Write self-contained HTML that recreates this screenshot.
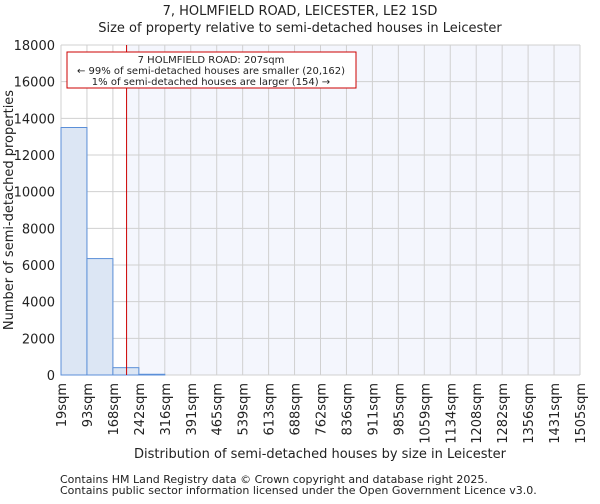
<!DOCTYPE html>
<html><head><meta charset="utf-8"><style>
body{margin:0;background:#fff;font-family:"DejaVu Sans","Liberation Sans",sans-serif}
svg text{font-family:"DejaVu Sans","Liberation Sans",sans-serif;fill:#222}
</style></head><body>
<svg width="600" height="500">
<g id="root"></g>
</svg>
<script>
const labels=["19sqm","93sqm","168sqm","242sqm","316sqm","391sqm","465sqm","539sqm","613sqm","688sqm","762sqm","836sqm","911sqm","985sqm","1059sqm","1134sqm","1208sqm","1282sqm","1356sqm","1431sqm","1505sqm"];
const counts=[13500,6350,400,40,0,0,0,0,0,0,0,0,0,0,0,0,0,0,0,0];
const yTicks=[0,2000,4000,6000,8000,10000,12000,14000,16000,18000];
const edges=[19,93,168,242,316,391,465,539,613,688,762,836,911,985,1059,1134,1208,1282,1356,1431,1505];
const propertySize=207;
const L=61,R=580,T=45,B=375,yMax=18000;
const step=(R-L)/(labels.length-1);
const NS="http://www.w3.org/2000/svg";
const root=document.getElementById('root');
function y(v){return B-(v/yMax)*(B-T);}
function xi(i){return L+i*step;}
function xv(v){for(let i=0;i<edges.length-1;i++){if(v<=edges[i+1])return xi(i)+(v-edges[i])/(edges[i+1]-edges[i])*step;}return R;}
function mk(tag,a,txt){const e=document.createElementNS(NS,tag);for(const k in a)e.setAttribute(k,a[k]);if(txt!=null)e.textContent=txt;root.appendChild(e);return e;}
const rx=xv(propertySize);
let e;
e=mk('rect',{x:L,y:T,width:R-L,height:B-T,fill:'#fff'});


e=mk('rect',{x:rx,y:T,width:R-rx,height:B-T,fill:'#f4f6fd'});


yTicks.forEach(t=>{
 e=mk('line',{x1:L,x2:R,y1:y(t),y2:y(t),stroke:'#d0d0d0','stroke-width':1});
 
 
 e=mk('text',{x:L-6,y:y(t)+5,'text-anchor':'end','font-size':13},t);
 
 
});
labels.forEach((l,i)=>{
 e=mk('line',{x1:xi(i),x2:xi(i),y1:T,y2:B,stroke:'#d0d0d0','stroke-width':1});
 
 
 e=mk('text',{x:0,y:0,'text-anchor':'end','font-size':13,transform:`translate(${xi(i)+5},${B+8}) rotate(-90)`},l);
 
 
});
counts.forEach((c,i)=>{
 if(c<=0)return;
 e=mk('rect',{x:xi(i),y:y(c),width:step,height:B-y(c),fill:'#dce6f4',stroke:'#5b8fd8','stroke-width':1});
 
 
});
e=mk('line',{x1:rx,x2:rx,y1:T,y2:B,stroke:'#cc0000','stroke-width':1});


e=mk('rect',{x:67,y:52,width:289,height:36,fill:'#fff',stroke:'#cc0000','stroke-width':1});


[["7 HOLMFIELD ROAD: 207sqm",63],["← 99% of semi-detached houses are smaller (20,162)",74],["1% of semi-detached houses are larger (154) →",85]].forEach(a=>{
 e=mk('text',{x:211,y:a[1],'text-anchor':'middle','font-size':10},a[0]);
 
 
});
e=mk('text',{x:300,y:15,'text-anchor':'middle','font-size':13},"7, HOLMFIELD ROAD, LEICESTER, LE2 1SD");


e=mk('text',{x:300,y:32,'text-anchor':'middle','font-size':13},"Size of property relative to semi-detached houses in Leicester");


e=mk('text',{x:0,y:0,'text-anchor':'middle','font-size':13,transform:'translate(13,210) rotate(-90)'},"Number of semi-detached properties");


e=mk('text',{x:320,y:458,'text-anchor':'middle','font-size':13},"Distribution of semi-detached houses by size in Leicester");


e=mk('text',{x:60,y:483,'font-size':11,fill:'#444'},"Contains HM Land Registry data © Crown copyright and database right 2025.");


e=mk('text',{x:60,y:494,'font-size':11,fill:'#444'},"Contains public sector information licensed under the Open Government Licence v3.0.");


</script>
</body></html>
